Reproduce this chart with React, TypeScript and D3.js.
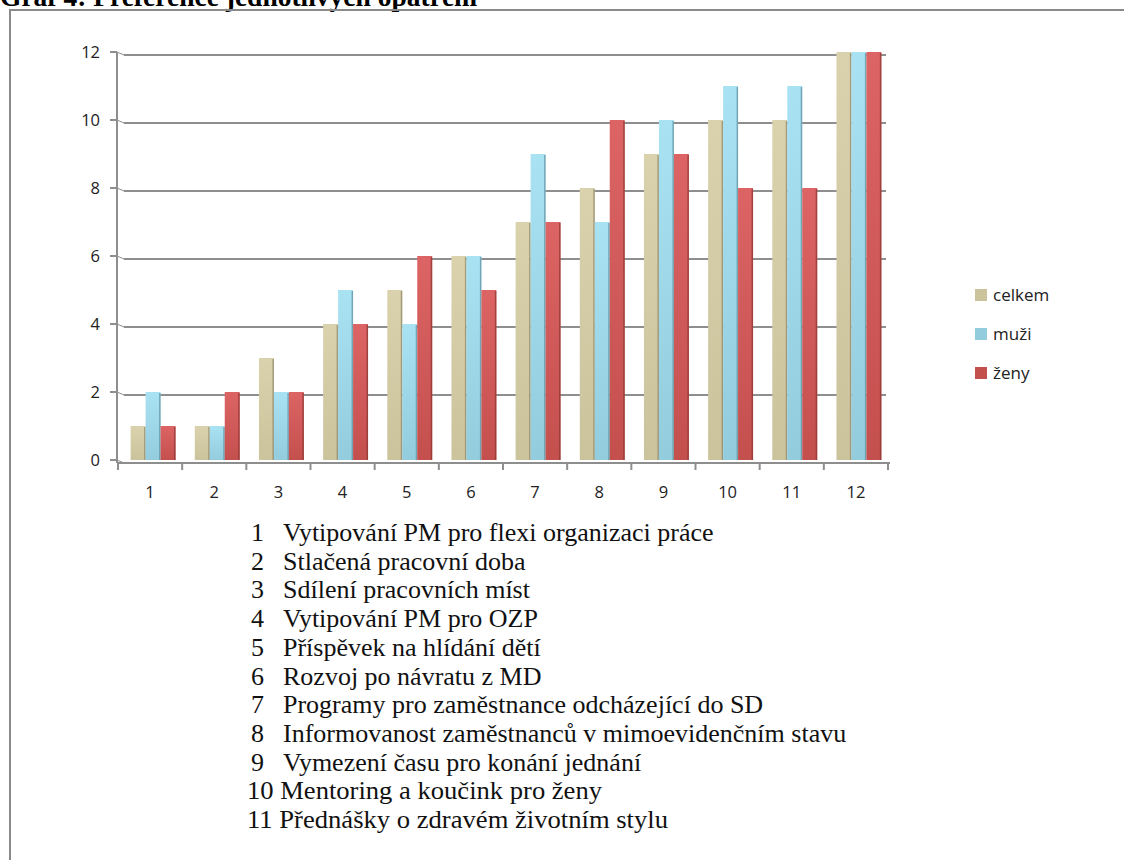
import React from "react";
import * as d3 from "d3";

const categories = ["1", "2", "3", "4", "5", "6", "7", "8", "9", "10", "11", "12"];
const seriesNames = ["celkem", "muži", "ženy"];
const celkem = [1, 1, 3, 4, 5, 6, 7, 8, 9, 10, 10, 12];
const muzi = [2, 1, 2, 5, 4, 6, 9, 7, 10, 11, 11, 12];
const zeny = [1, 2, 2, 4, 6, 5, 7, 10, 9, 8, 8, 12];
const yTicks = [0, 2, 4, 6, 8, 10, 12];
const descriptions = [
  "Vytipování PM pro flexi organizaci práce",
  "Stlačená pracovní doba",
  "Sdílení pracovních míst",
  "Vytipování PM pro OZP",
  "Příspěvek na hlídání dětí",
  "Rozvoj po návratu z MD",
  "Programy pro zaměstnance odcházející do SD",
  "Informovanost zaměstnanců v mimoevidenčním stavu",
  "Vymezení času pro konání jednání",
  "Mentoring a koučink pro ženy",
  "Přednášky o zdravém životním stylu",
];
const title = "Graf 4: Preference jednotlivých opatření";

const colors = ["#CBC39C", "#93CDDD", "#C4504E"];
const lightColors = ["#DAD2AC", "#A9E2F3", "#DC6464"];
const sideColors = ["#8C8466", "#5E8E9B", "#8A3432"];

export default function App() {
  const values = [celkem, muzi, zeny];
  const x = d3.scaleBand<string>().domain(categories).range([118, 888]).paddingInner(0.3).paddingOuter(0.15);
  const xAxis = d3.scaleBand<string>().domain(categories).range([118, 888]);
  const xs = d3.scaleBand<string>().domain(seriesNames).range([0, x.bandwidth()]);
  const y = d3.scaleLinear().domain([0, 12]).range([460, 52]);
  const grid = "#8E8E8E";

  return (
    <svg width={1124} height={860} style={{ position: "absolute", left: 0, top: 0, background: "#fff" }}>
      <defs>
        {seriesNames.map((s, i) => (
          <linearGradient key={s} id={`g${i}`} x1="0" y1="1" x2="0" y2="0">
            <stop offset="0%" stopColor={colors[i]} />
            <stop offset="100%" stopColor={lightColors[i]} />
          </linearGradient>
        ))}
      </defs>
      <rect x={0} y={0} width={1124} height={860} fill="#fff" />
      <text x={0} y={6} fontFamily="'Liberation Serif', serif" fontWeight="bold" fontSize={27.5}>
        {title}
      </text>
      <rect x={10} y={10} width={1130} height={870} fill="none" stroke="#8A8A8A" strokeWidth={2} />

      {/* gridlines */}
      {yTicks.map((t) => (
        <g key={t}>
          <line x1={110} x2={117} y1={y(t)} y2={y(t)} stroke={grid} strokeWidth={2} />
          <line x1={117} x2={124} y1={y(t)} y2={y(t) + 3} stroke={grid} strokeWidth={1} />
          <line x1={124} x2={886} y1={y(t) + 3} y2={y(t) + 3} stroke={grid} strokeWidth={2} />
          <text x={100} y={y(t) + 6} textAnchor="end" fontFamily="'Open Sans', sans-serif" fontSize={16.5} fill="#222">
            {t}
          </text>
        </g>
      ))}
      {/* y axis */}
      <line x1={117} x2={117} y1={y(12)} y2={y(0) + 3} stroke={grid} strokeWidth={2} />
      {/* x axis */}
      <line x1={117} x2={890} y1={y(0) + 3} y2={y(0) + 3} stroke={grid} strokeWidth={2} />
      {d3.range(categories.length + 1).map((i) => {
        const xv = 118 + i * xAxis.step();
        return <line key={i} x1={xv} x2={xv} y1={y(0) + 3} y2={y(0) + 10} stroke={grid} strokeWidth={2} />;
      })}
      {categories.map((c) => (
        <text key={c} x={(xAxis(c) as number) + xAxis.bandwidth() / 2} y={y(0) + 38} textAnchor="middle"
          fontFamily="'Open Sans', sans-serif" fontSize={16.5} fill="#222">
          {c}
        </text>
      ))}

      {/* bars */}
      {categories.map((c, ci) => (
        <g key={c} transform={`translate(${(x(c) as number) + 3},0)`}>
          {seriesNames.map((s, si) => {
            const v = values[si][ci];
            const bx = xs(s) as number;
            const bw = xs.bandwidth();
            return (
              <g key={s}>
                <rect x={bx} y={y(v)} width={bw} height={y(0) - y(v)} fill={`url(#g${si})`} />
                <rect x={bx + bw - 1.5} y={y(v) + 1} width={1.5} height={y(0) - y(v) - 1} fill={sideColors[si]} opacity={0.7} />
              </g>
            );
          })}
        </g>
      ))}

      {/* legend */}
      {seriesNames.map((s, i) => (
        <g key={s} transform={`translate(975,${295 + i * 39})`}>
          <rect x={0} y={-6} width={12} height={12} fill={colors[i]} />
          <text x={18} y={6} fontFamily="'Open Sans', sans-serif" fontSize={17} fill="#222">
            {s}
          </text>
        </g>
      ))}

      {/* descriptions */}
      {descriptions.map((d, i) => {
        const yy = 541 + i * 28.7;
        const n = i + 1;
        return n < 10 ? (
          <g key={i} fontFamily="'Liberation Serif', serif" fontSize={26} fill="#111">
            <text x={251} y={yy}>{n}</text>
            <text x={283} y={yy}>{d}</text>
          </g>
        ) : (
          <text key={i} x={247} y={yy} fontFamily="'Liberation Serif', serif" fontSize={26} fill="#111"
            textLength={n === 10 ? 355 : 421} lengthAdjust="spacingAndGlyphs">
            {`${n} ${d}`}
          </text>
        );
      })}
    </svg>
  );
}
